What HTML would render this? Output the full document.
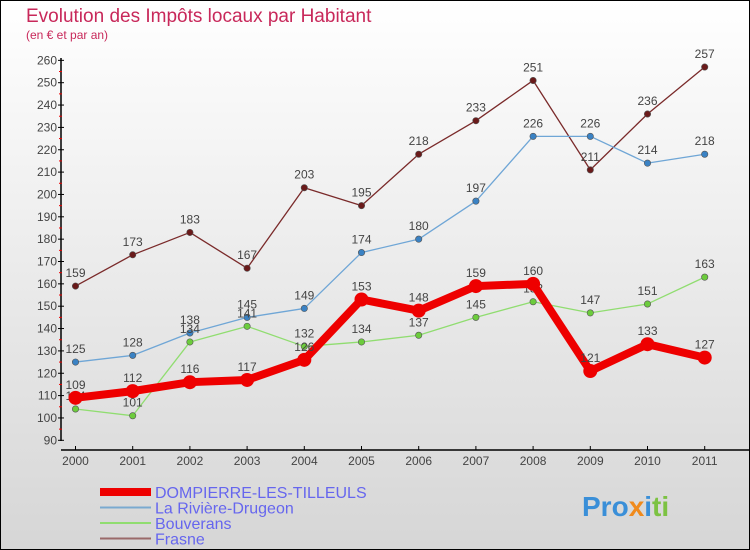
<!DOCTYPE html>
<html><head><meta charset="utf-8"><style>
body{margin:0;width:750px;height:550px;overflow:hidden}
svg{display:block;font-family:"Liberation Sans",sans-serif}
</style></head><body>
<svg id="c" width="750" height="550">
<defs><linearGradient id="bg" x1="0" y1="0" x2="0" y2="1"><stop offset="0" stop-color="#ffffff"/><stop offset="1" stop-color="#d6d6d6"/></linearGradient></defs>
<rect x="0.5" y="0.5" width="749" height="549" fill="url(#bg)" stroke="#000"/>
<text x="26" y="22" font-size="19" fill="#c8285a">Evolution des Impôts locaux par Habitant</text>
<text x="26" y="39" font-size="12" fill="#c8285a">(en € et par an)</text>
<g id="axes"></g><g id="series"></g><g id="legend"></g>
<text x="582" y="516" font-size="28" font-weight="bold"><tspan fill="#3a8fd8">Pro</tspan><tspan fill="#f08a1c">x</tspan><tspan fill="#3a8fd8">i</tspan><tspan fill="#7cc242">ti</tspan></text>
</svg>
<script>
const years=[2000,2001,2002,2003,2004,2005,2006,2007,2008,2009,2010,2011];
const yTicks=[90,100,110,120,130,140,150,160,170,180,190,200,210,220,230,240,250,260];
const dompierre=[109,112,116,117,126,153,148,159,160,121,133,127];
const riviere=[125,128,138,145,149,174,180,197,226,226,214,218];
const bouverans=[104,101,134,141,132,134,137,145,152,147,151,163];
const frasne=[159,173,183,167,203,195,218,233,251,211,236,257];
const NS="http://www.w3.org/2000/svg";
const X=i=>75.5+i*57.2;
const Y=v=>440.3-(v-90)*2.235;
function mk(t,a,p){const e=document.createElementNS(NS,t);for(const k in a)e.setAttribute(k,a[k]);(p||document.getElementById('series')).appendChild(e);return e;}
const ax=document.getElementById('axes');
let e=mk('line',{x1:61,y1:58,x2:61,y2:441,stroke:'#000','stroke-width':1.5},ax);

e=mk('line',{x1:61,y1:450,x2:750,y2:450,stroke:'#000','stroke-width':1.5},ax);

yTicks.forEach((v,i)=>{
 mk('line',{x1:58,y1:Y(v),x2:64,y2:Y(v),stroke:'#000'},ax);
 if(i<yTicks.length-1)mk('line',{x1:59,y1:Y(v+5),x2:62,y2:Y(v+5),stroke:'#e00'},ax);
 const t=mk('text',{x:57,y:Y(v)+4,'font-size':12,'text-anchor':'end',fill:'#444'},ax);t.textContent=v;
 
});
years.forEach((y,i)=>{
 mk('line',{x1:X(i),y1:446,x2:X(i),y2:450,stroke:'#000'},ax);
 const t=mk('text',{x:X(i),y:465,'font-size':12,'text-anchor':'middle',fill:'#444'},ax);t.textContent=y;
 
});
function series(d,col,dot,w,r,name,lab){
 const g=mk('g',{});
 mk('polyline',{points:d.map((v,i)=>X(i)+','+Y(v)).join(' '),fill:'none',stroke:col,'stroke-width':w,'stroke-linejoin':'round'},g);
 d.forEach((v,i)=>{
  const c=mk('circle',{cx:X(i),cy:Y(v),r:r,fill:dot,stroke:'#555','stroke-width':r>4?0:0.6},g);
  
  if(lab){const t=mk('text',{x:X(i),y:Y(v)-9,'font-size':12,'text-anchor':'middle',fill:'#444'},g);t.textContent=v;
  }
 });
}
series(frasne,'#7a2a2a','#6a1a1a',1.3,3.2,'frasne-series',1);
series(riviere,'#6fa6d6','#3a82c4',1.3,3.2,'riviere-drugeon-series',1);
series(bouverans,'#90dd70','#6ccc3c',1.3,3.2,'bouverans-series',1);
series(dompierre,'#ee0000','#ee0000',8,7,'dompierre-series',1);
const lg=document.getElementById('legend');
const items=[['DOMPIERRE-LES-TILLEULS','#ee0000',8],['La Rivière-Drugeon','#7aaad0',2],['Bouverans','#90dd70',2],['Frasne','#9a6a6a',2]];
items.forEach((it,i)=>{
 const y=492+i*15.5;
 const g=mk('g',{},lg);
 mk('line',{x1:100,y1:y,x2:151,y2:y,stroke:it[1],'stroke-width':it[2]},g);
 const t=mk('text',{x:155,y:y+6,'font-size':16,fill:'#6666ee'},g);t.textContent=it[0];
});
</script>
</body></html>
